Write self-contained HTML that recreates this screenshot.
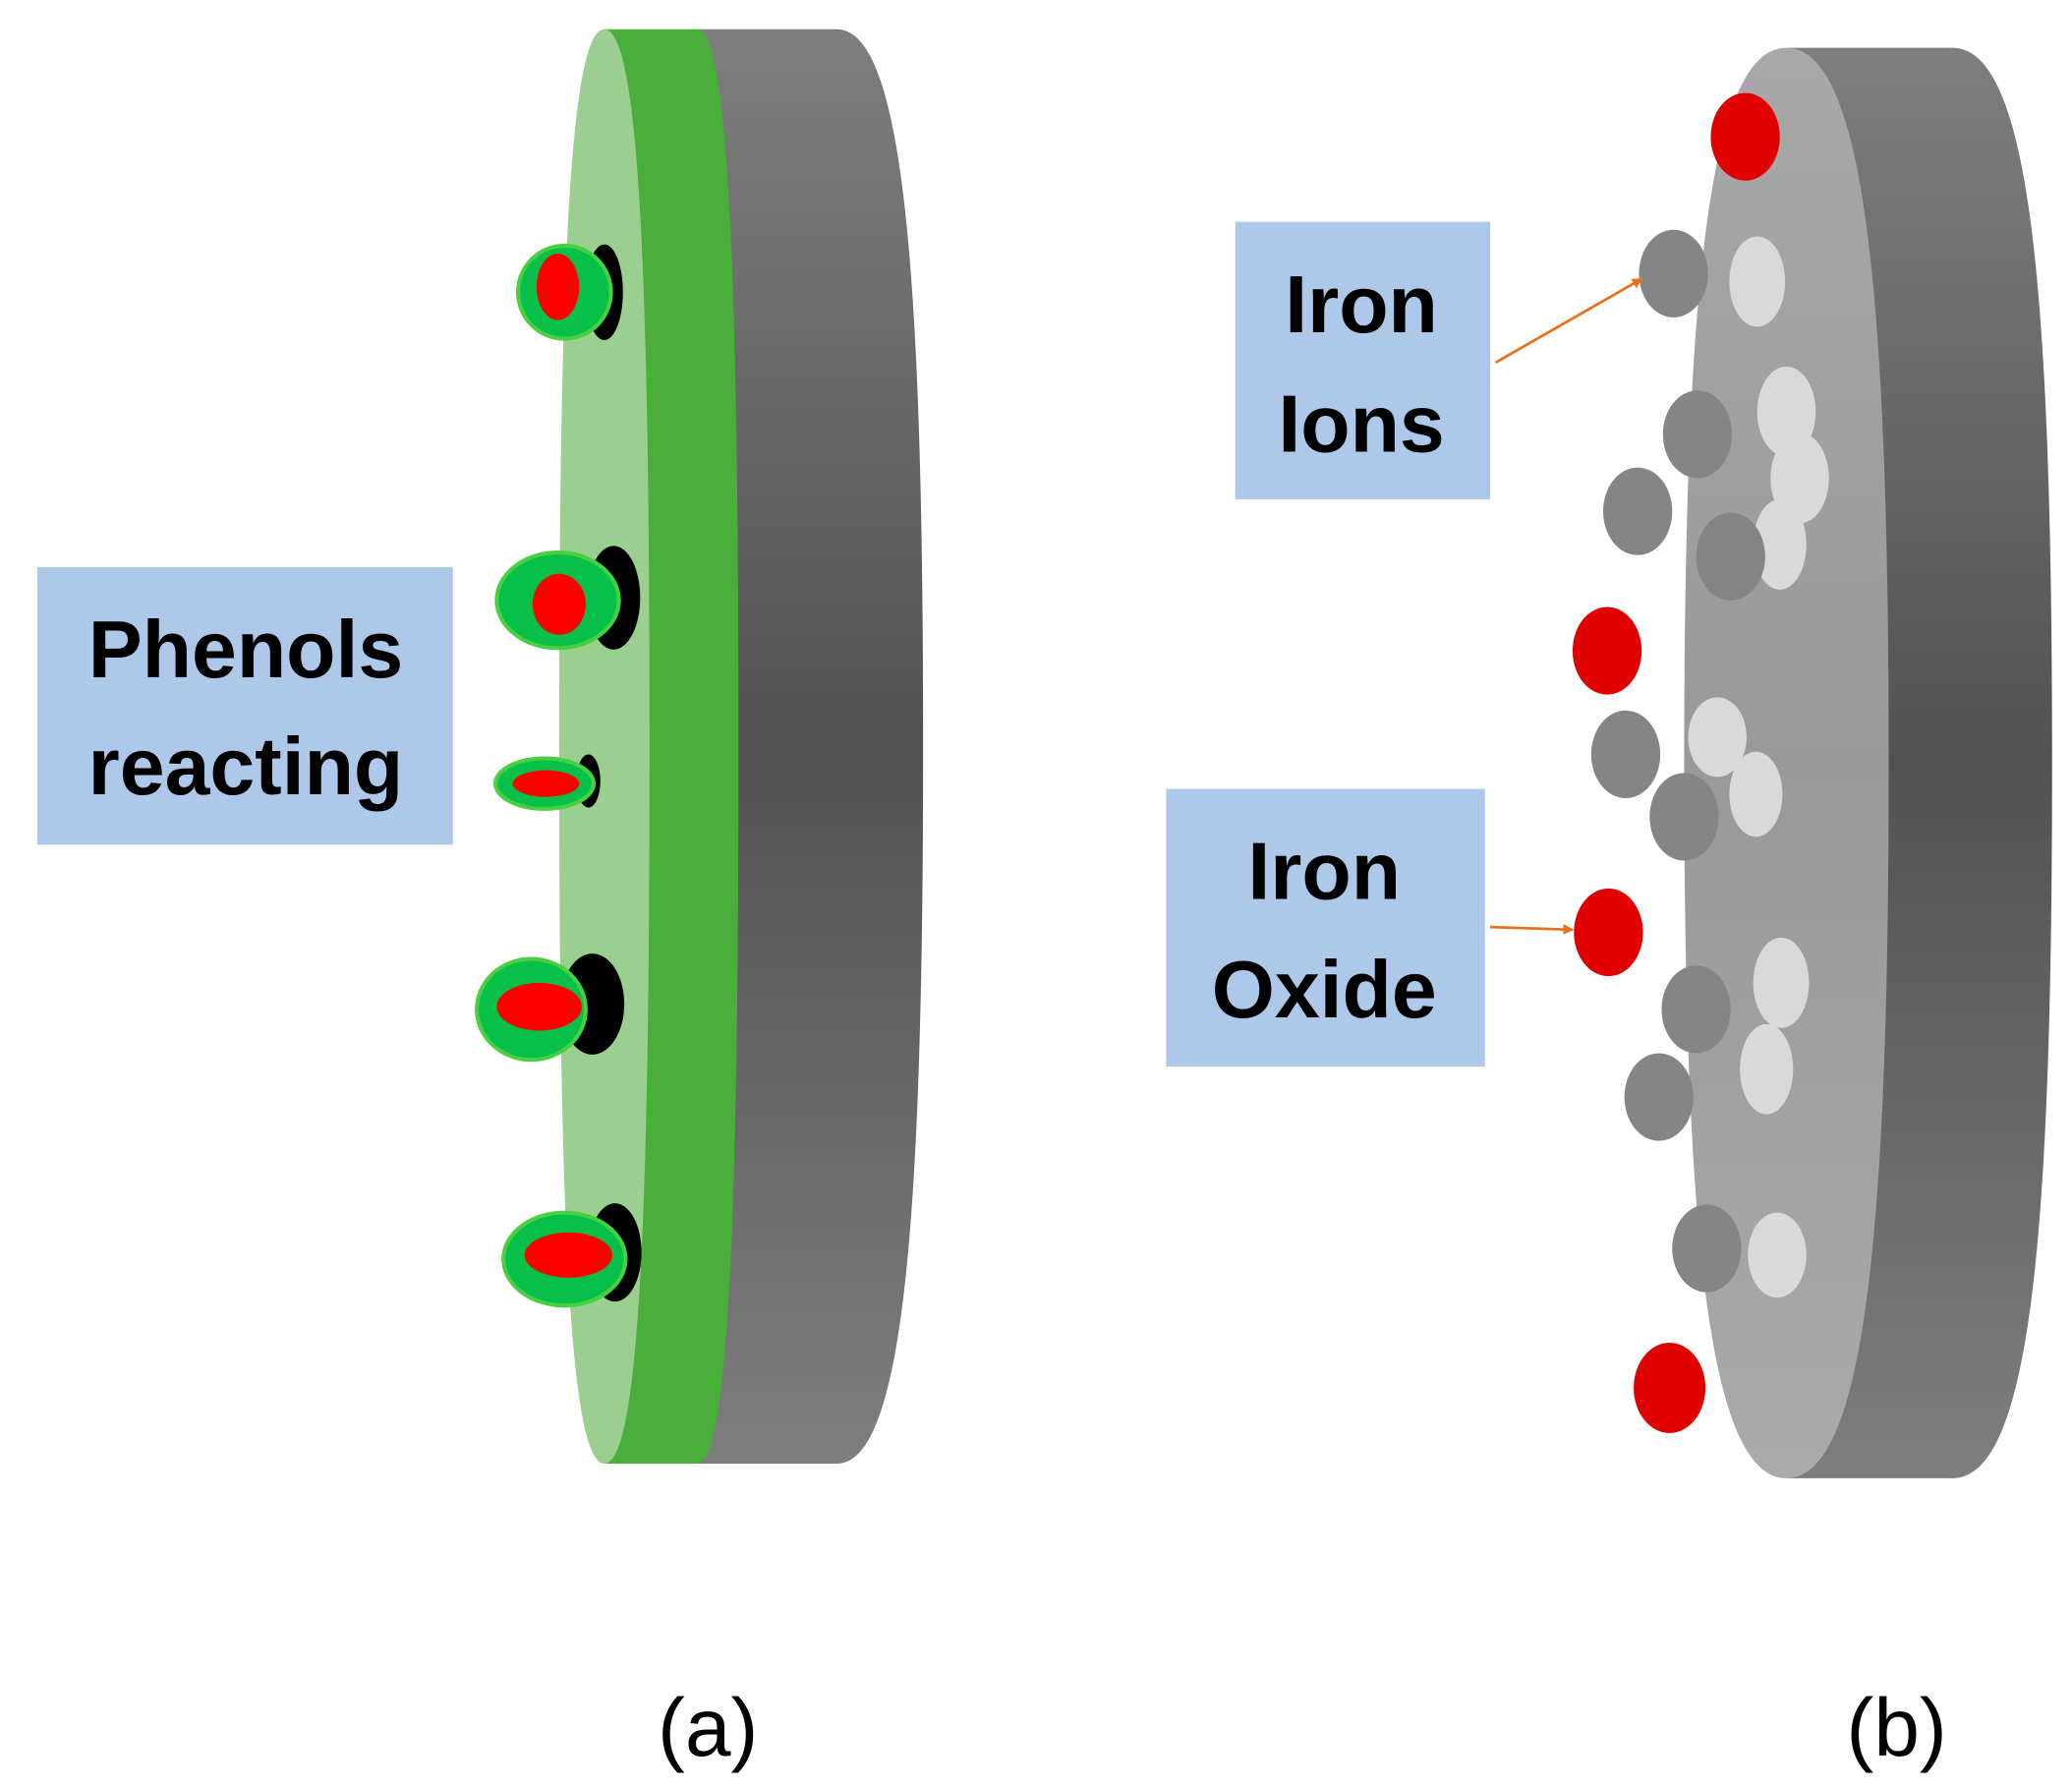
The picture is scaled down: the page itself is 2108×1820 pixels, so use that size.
<!DOCTYPE html>
<html><head><meta charset="utf-8"><style>
html,body{margin:0;padding:0;background:#fff;}
svg{display:block;}
text{font-family:"Liberation Sans",sans-serif;}
</style></head><body>
<svg width="2108" height="1820" viewBox="0 0 1560 1347" preserveAspectRatio="none" xmlns="http://www.w3.org/2000/svg">
<defs>
<linearGradient id="gb" x1="0" y1="0" x2="0" y2="1">
<stop offset="0" stop-color="#7e7e7e"/><stop offset="0.5" stop-color="#525252"/><stop offset="1" stop-color="#7e7e7e"/>
</linearGradient>
<linearGradient id="gf" x1="0" y1="0" x2="0" y2="1">
<stop offset="0" stop-color="#a8a8a8"/><stop offset="0.5" stop-color="#999"/><stop offset="1" stop-color="#aaa"/>
</linearGradient>
<marker id="ar" markerWidth="8" markerHeight="8" refX="7" refY="4" orient="auto" markerUnits="userSpaceOnUse">
<path d="M0,0 L8,4 L0,8 Z" fill="#e8701a"/>
</marker>
</defs>
<!-- Left disc -->
<path d="M525,22 L630,22 C682,22 695,220 695,562 C695,904 682,1102 630,1102 L525,1102 Z" fill="url(#gb)"/>
<path d="M455,22 L525,22 C549,22 556,220 556,562 C556,904 549,1102 525,1102 L455,1102 Z" fill="#49ae3a"/>
<path d="M455,22 C428,22 421,220 421,562 C421,904 428,1102 455,1102 C482,1102 489,904 489,562 C489,220 482,22 455,22 Z" fill="#9bcf8f"/>
<!-- molecules -->
<g>
<ellipse cx="455" cy="220" rx="14" ry="36" fill="#000"/>
<ellipse cx="425" cy="220" rx="35" ry="35" fill="#06c04a" stroke="#48d040" stroke-width="3"/>
<ellipse cx="420" cy="216" rx="16" ry="25" fill="#f00"/>

<ellipse cx="462" cy="450" rx="20" ry="39" fill="#000"/>
<ellipse cx="420" cy="452" rx="46" ry="36" fill="#06c04a" stroke="#48d040" stroke-width="3"/>
<ellipse cx="421" cy="455" rx="20" ry="23" fill="#f00"/>

<ellipse cx="443" cy="588" rx="9" ry="20" fill="#000"/>
<ellipse cx="410" cy="590" rx="37" ry="19" fill="#06c04a" stroke="#48d040" stroke-width="3"/>
<ellipse cx="411" cy="590" rx="25" ry="10" fill="#f00"/>

<ellipse cx="446" cy="756" rx="24" ry="38" fill="#000"/>
<ellipse cx="400" cy="760" rx="41" ry="38" fill="#06c04a" stroke="#48d040" stroke-width="3"/>
<ellipse cx="406" cy="758" rx="32" ry="18" fill="#f00"/>

<ellipse cx="463" cy="943" rx="20" ry="37" fill="#000"/>
<ellipse cx="425" cy="948" rx="46" ry="35" fill="#06c04a" stroke="#48d040" stroke-width="3"/>
<ellipse cx="428" cy="945" rx="33" ry="17" fill="#f00"/>
</g>
<rect x="28" y="427" width="313" height="209" fill="#adc8e8"/>
<text x="185" y="510" font-size="61" font-weight="bold" text-anchor="middle" fill="#000">Phenols</text>
<text x="185" y="598" font-size="61" font-weight="bold" text-anchor="middle" fill="#000">reacting</text>
<text x="533" y="1322" font-size="62" text-anchor="middle" fill="#000">(a)</text>

<!-- Right disc -->
<path d="M1345,36 L1470,36 C1530,36 1545,230 1545,575 C1545,920 1530,1113 1470,1113 L1345,1113 Z" fill="url(#gb)"/>
<path d="M1345,36 C1285,36 1268,230 1268,575 C1268,920 1285,1113 1345,1113 C1405,1113 1422,920 1422,575 C1422,230 1405,36 1345,36 Z" fill="url(#gf)"/>
<g fill="#d9d9d9">
<ellipse cx="1323" cy="212" rx="21" ry="34"/>
<ellipse cx="1345" cy="310" rx="22" ry="34"/>
<ellipse cx="1355" cy="360" rx="22" ry="34"/>
<ellipse cx="1340" cy="410" rx="20" ry="34"/>
<ellipse cx="1293" cy="555" rx="22" ry="30"/>
<ellipse cx="1322" cy="598" rx="20" ry="32"/>
<ellipse cx="1341" cy="740" rx="21" ry="34"/>
<ellipse cx="1330" cy="805" rx="20" ry="34"/>
<ellipse cx="1338" cy="945" rx="22" ry="32"/>
</g>
<g fill="#858585">
<ellipse cx="1260" cy="206" rx="26" ry="33"/>
<ellipse cx="1278" cy="327" rx="26" ry="33"/>
<ellipse cx="1233" cy="385" rx="26" ry="33"/>
<ellipse cx="1303" cy="419" rx="26" ry="33"/>
<ellipse cx="1224" cy="568" rx="26" ry="33"/>
<ellipse cx="1268" cy="615" rx="26" ry="33"/>
<ellipse cx="1277" cy="760" rx="26" ry="33"/>
<ellipse cx="1249" cy="826" rx="26" ry="33"/>
<ellipse cx="1285" cy="940" rx="26" ry="33"/>
</g>
<g fill="#e00000">
<ellipse cx="1314" cy="103" rx="26" ry="33"/>
<ellipse cx="1210" cy="490" rx="26" ry="33"/>
<ellipse cx="1211" cy="702" rx="26" ry="33"/>
<ellipse cx="1257" cy="1045" rx="27" ry="34"/>
</g>
<rect x="930" y="167" width="192" height="209" fill="#adc8e8"/>
<text x="1025" y="250" font-size="61" font-weight="bold" text-anchor="middle" fill="#000">Iron</text>
<text x="1025" y="340" font-size="61" font-weight="bold" text-anchor="middle" fill="#000">Ions</text>
<rect x="878" y="594" width="240" height="209" fill="#adc8e8"/>
<text x="997" y="677" font-size="61" font-weight="bold" text-anchor="middle" fill="#000">Iron</text>
<text x="997" y="766" font-size="61" font-weight="bold" text-anchor="middle" fill="#000">Oxide</text>
<line x1="1126" y1="273" x2="1236" y2="210" stroke="#e8701a" stroke-width="2" marker-end="url(#ar)"/>
<line x1="1122" y1="698" x2="1184" y2="700" stroke="#e8701a" stroke-width="2" marker-end="url(#ar)"/>
<text x="1428" y="1322" font-size="62" text-anchor="middle" fill="#000">(b)</text>
</svg>
</body></html>
